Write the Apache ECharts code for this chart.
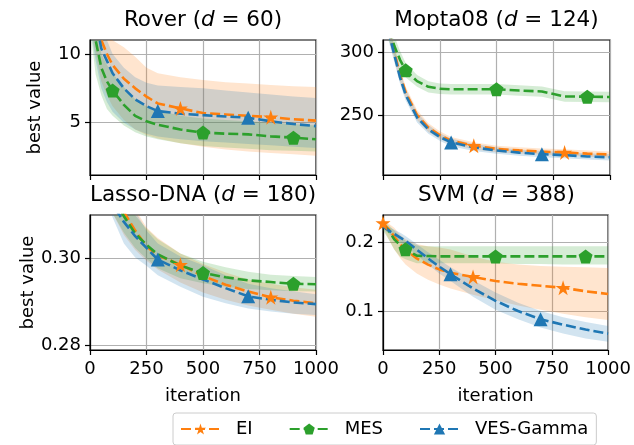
<!DOCTYPE html>
<html>
<head>
<meta charset="utf-8">
<script src="https://cdn.jsdelivr.net/npm/echarts@6/dist/echarts.min.js"></script>
<style>
  html, body { margin: 0; padding: 0; background: #fff; }
  #main { width: 634px; height: 445px; }
</style>
</head>
<body>
<div id="main"></div>
<script>
// iterations sampled along the x axis
const iterations = [0, 25, 50, 75, 100, 150, 200, 250, 300, 400, 500, 600, 700, 800, 900, 1000];
const methods = ['EI', 'MES', 'VES-Gamma'];
// where each method puts its markers
const markEI = [0, 400, 800];
const markMES = [100, 500, 900];
const markVES = [300, 700];

// Rover (d = 60)
const roverEI     = [16, 13, 11.0, 10.0, 9.2, 8.2, 7.5, 6.9, 6.4, 6.04, 5.7, 5.6, 5.5, 5.4, 5.25, 5.15];
const roverEILo   = [12, 10, 8, 7, 6.2, 5.2, 4.5, 4.1, 3.85, 3.5, 3.25, 3.05, 2.9, 2.8, 2.7, 2.6];
const roverEIHi   = [20, 16, 12.5, 11.5, 11, 10.5, 9.8, 9.0, 8.6, 8.3, 8.1, 7.95, 7.85, 7.75, 7.65, 7.6];
const roverMES    = [16, 11, 9.0, 8.0, 7.34, 6.3, 5.5, 5.1, 4.85, 4.5, 4.28, 4.2, 4.15, 4.0, 3.91, 3.79];
const roverMESLo  = [12, 8.5, 7, 6, 5.5, 4.8, 4.3, 4.0, 3.8, 3.5, 3.3, 3.2, 3.1, 3.0, 2.95, 2.9];
const roverMESHi  = [20, 13, 10, 9.2, 8.6, 7.6, 6.7, 6.2, 5.9, 5.5, 5.3, 5.2, 5.1, 5.0, 4.9, 4.8];
const roverVES    = [16, 12.5, 10.4, 9.5, 8.6, 7.5, 6.7, 6.2, 5.85, 5.65, 5.55, 5.45, 5.36, 5.1, 4.9, 4.75];
const roverVESLo  = [12, 9.5, 7.5, 6.5, 5.8, 5.0, 4.5, 4.2, 4.0, 3.8, 3.65, 3.55, 3.45, 3.35, 3.25, 3.15];
const roverVESHi  = [20, 15, 12, 11, 10, 9, 8.3, 7.9, 7.7, 7.6, 7.5, 7.35, 7.2, 7.05, 6.9, 6.8];

// Mopta08 (d = 124)
const moptaEI     = [340, 318, 300, 282, 268, 250, 240, 234, 229.5, 225.5, 223, 221.8, 220.8, 220.2, 219.2, 218.5];
const moptaEILo   = [332, 311, 294, 277, 263.5, 246, 236.5, 231, 226.5, 222.7, 220.4, 219.3, 218.3, 217.7, 216.7, 216];
const moptaEIHi   = [348, 325, 306, 287, 272.5, 254, 243.5, 237, 232.5, 228.3, 225.6, 224.3, 223.3, 222.7, 221.7, 221];
const moptaMES    = [340, 320, 305, 294, 285.6, 277, 272.5, 271, 270.5, 270.5, 270.6, 269.5, 268.8, 264.8, 264.6, 264.4];
const moptaMESLo  = [328, 310, 297, 287, 280, 272.5, 268, 266.8, 266.3, 266.3, 266.3, 265.3, 264.5, 260.5, 260.3, 260.2];
const moptaMESHi  = [352, 330, 313, 301, 291.5, 282, 277, 275.2, 274.7, 274.7, 274.8, 273.7, 272.8, 269, 268.8, 268.6];
const moptaVES    = [340, 316, 298, 280, 266, 248, 238.5, 232.5, 228.2, 224.2, 221.8, 220, 218.8, 218, 217, 216.3];
const moptaVESLo  = [332, 309, 292, 275, 261.5, 244, 235, 229.5, 225.2, 221.4, 219.2, 217.5, 216.3, 215.5, 214.5, 213.8];
const moptaVESHi  = [348, 323, 304, 285, 270.5, 252, 242, 235.5, 231.2, 227, 224.4, 222.5, 221.3, 220.5, 219.5, 218.8];

// Lasso-DNA (d = 180)
const lassoEI     = [0.332, 0.327, 0.322, 0.318, 0.3145, 0.3108, 0.3065, 0.3028, 0.3008, 0.2986, 0.2960, 0.2940, 0.2924, 0.2911, 0.2903, 0.2897];
const lassoEILo   = [0.322, 0.318, 0.315, 0.313, 0.3105, 0.3055, 0.3020, 0.2995, 0.2975, 0.2945, 0.2922, 0.2905, 0.2892, 0.2882, 0.2873, 0.2866];
const lassoEIHi   = [0.342, 0.337, 0.332, 0.327, 0.322, 0.316, 0.3115, 0.3072, 0.3048, 0.3012, 0.2988, 0.2968, 0.2952, 0.2942, 0.2934, 0.2928];
const lassoMES    = [0.332, 0.327, 0.322, 0.318, 0.3145, 0.3098, 0.3058, 0.3032, 0.3010, 0.2984, 0.2967, 0.2957, 0.2950, 0.2946, 0.2942, 0.2941];
const lassoMESLo  = [0.325, 0.320, 0.316, 0.313, 0.3105, 0.3060, 0.3025, 0.3000, 0.2978, 0.2955, 0.2943, 0.2935, 0.2930, 0.2927, 0.2925, 0.2924];
const lassoMESHi  = [0.340, 0.335, 0.330, 0.325, 0.320, 0.3145, 0.310, 0.307, 0.3045, 0.3012, 0.2993, 0.2980, 0.2970, 0.2963, 0.2960, 0.2958];
const lassoVES    = [0.330, 0.325, 0.320, 0.316, 0.3125, 0.3085, 0.3052, 0.3025, 0.2998, 0.2973, 0.2952, 0.2932, 0.2913, 0.2905, 0.2899, 0.2895];
const lassoVESLo  = [0.322, 0.318, 0.316, 0.313, 0.3095, 0.3035, 0.3003, 0.2984, 0.2962, 0.2935, 0.2912, 0.2897, 0.2885, 0.2878, 0.2873, 0.2870];
const lassoVESHi  = [0.340, 0.335, 0.330, 0.325, 0.319, 0.315, 0.311, 0.3065, 0.3035, 0.3005, 0.2985, 0.2962, 0.2942, 0.2932, 0.2925, 0.2918];

// SVM (d = 388)
const svmEI       = [0.229, 0.220, 0.209, 0.198, 0.190, 0.177, 0.168, 0.161, 0.156, 0.150, 0.144, 0.140, 0.137, 0.134, 0.129, 0.125];
const svmEILo     = [0.222, 0.205, 0.190, 0.178, 0.168, 0.155, 0.146, 0.139, 0.133, 0.124, 0.116, 0.108, 0.102, 0.096, 0.091, 0.087];
const svmEIHi     = [0.235, 0.228, 0.222, 0.212, 0.205, 0.198, 0.195, 0.193, 0.190, 0.180, 0.172, 0.168, 0.166, 0.165, 0.164, 0.163];
const svmMES      = [0.226, 0.218, 0.205, 0.197, 0.1905, 0.181, 0.1805, 0.180, 0.180, 0.180, 0.180, 0.180, 0.180, 0.180, 0.180, 0.180];
const svmMESLo    = [0.218, 0.205, 0.190, 0.180, 0.176, 0.170, 0.170, 0.170, 0.170, 0.170, 0.170, 0.169, 0.169, 0.168, 0.168, 0.168];
const svmMESHi    = [0.232, 0.226, 0.218, 0.210, 0.203, 0.196, 0.195, 0.195, 0.195, 0.195, 0.195, 0.195, 0.195, 0.195, 0.195, 0.195];
const svmVES      = [0.224, 0.218, 0.213, 0.208, 0.203, 0.190, 0.177, 0.165, 0.154, 0.133, 0.115, 0.100, 0.088, 0.080, 0.073, 0.067];
const svmVESLo    = [0.220, 0.213, 0.207, 0.201, 0.196, 0.182, 0.168, 0.155, 0.144, 0.121, 0.102, 0.088, 0.076, 0.067, 0.060, 0.055];
const svmVESHi    = [0.228, 0.223, 0.219, 0.215, 0.210, 0.198, 0.186, 0.175, 0.164, 0.145, 0.127, 0.112, 0.100, 0.091, 0.084, 0.078];

// y tick labels per panel
const roverTicks = [5, 10];
const moptaTicks = [250, 300];
const lassoTicks = [0.28, 0.30];
const svmTicks = [0.1, 0.2];

const FONT = 'DejaVu Sans';
const colors = { 'EI': '#ff7f0e', 'MES': '#2ca02c', 'VES-Gamma': '#1f77b4' };
const bandColors = { 'EI': 'rgba(255,127,14,0.2)', 'MES': 'rgba(44,160,44,0.2)', 'VES-Gamma': 'rgba(31,119,180,0.2)' };
const STAR = 'path://M50,0L61.2,34.5L97.6,34.5L68.2,55.9L79.4,90.5L50,69.1L20.6,90.5L31.8,55.9L2.4,34.5L38.8,34.5Z';
const PENT = 'path://M50,0L97.6,34.5L79.4,90.5L20.6,90.5L2.4,34.5Z';
const symbols = { 'EI': STAR, 'MES': PENT, 'VES-Gamma': 'triangle' };
const symbolSizes = { 'EI': 15, 'MES': 14, 'VES-Gamma': 14 };
const marks = { 'EI': markEI, 'MES': markMES, 'VES-Gamma': markVES };

const panels = [
  { name: 'Rover', d: 60, mean: [roverEI, roverMES, roverVES], lo: [roverEILo, roverMESLo, roverVESLo], hi: [roverEIHi, roverMESHi, roverVESHi],
    ymin: 1.19, ymax: 11.02, ticks: roverTicks, dec: 0,
    grid: { left: 90, top: 40, width: 226, height: 135 }, xlabels: false, ylabel: true },
  { name: 'Mopta08', d: 124, mean: [moptaEI, moptaMES, moptaVES], lo: [moptaEILo, moptaMESLo, moptaVESLo], hi: [moptaEIHi, moptaMESHi, moptaVESHi],
    ymin: 202.2, ymax: 309.8, ticks: moptaTicks, dec: 0,
    grid: { left: 383, top: 40, width: 227, height: 135 }, xlabels: false, ylabel: false },
  { name: 'Lasso-DNA', d: 180, mean: [lassoEI, lassoMES, lassoVES], lo: [lassoEILo, lassoMESLo, lassoVESLo], hi: [lassoEIHi, lassoMESHi, lassoVESHi],
    ymin: 0.2789, ymax: 0.3101, ticks: lassoTicks, dec: 2,
    grid: { left: 90, top: 215, width: 226, height: 135 }, xlabels: true, ylabel: true },
  { name: 'SVM', d: 388, mean: [svmEI, svmMES, svmVES], lo: [svmEILo, svmMESLo, svmVESLo], hi: [svmEIHi, svmMESHi, svmVESHi],
    ymin: 0.043, ymax: 0.2406, ticks: svmTicks, dec: 1,
    grid: { left: 383, top: 215, width: 227, height: 135 }, xlabels: true, ylabel: false }
];

function pairs(ys) {
  return iterations.map((x, i) => [x, ys[i]]);
}

// one polygon per band, placed through the grid's own scales
function bandSeries(gi, lo, hi, fill) {
  return {
    type: 'custom', xAxisIndex: gi, yAxisIndex: gi, silent: true, clip: true, z: 1,
    data: iterations.map((x, i) => [x, lo[i], hi[i]]),
    encode: { x: 0, y: [1, 2] },
    renderItem: function (params, api) {
      if (params.dataIndex !== 0) return;
      const upper = iterations.map((x, i) => api.coord([x, hi[i]]));
      const lower = iterations.map((x, i) => api.coord([x, lo[i]])).reverse();
      return { type: 'polygon', shape: { points: upper.concat(lower) }, style: { fill: fill } };
    }
  };
}

const chart = echarts.init(document.getElementById('main'));

const grids = [], xAxes = [], yAxes = [], series = [], graphics = [];

panels.forEach((p, gi) => {
  grids.push(Object.assign({ show: true, borderColor: '#000', borderWidth: 1.2, backgroundColor: 'transparent' }, p.grid));

  xAxes.push({
    type: 'value', gridIndex: gi, min: 0, max: 1000, interval: 250,
    axisLine: { show: true, lineStyle: { color: '#000', width: 1.2 } },
    axisTick: { show: true, length: 5, lineStyle: { color: '#000', width: 1.2 } },
    axisLabel: { show: p.xlabels, color: '#000', fontSize: 18, fontFamily: FONT, margin: 10,
      formatter: (v) => String(v) },
    splitLine: { show: true, lineStyle: { color: '#b0b0b0', width: 1.2 } },
    name: p.xlabels ? 'iteration' : '', nameLocation: 'middle', nameGap: 37,
    nameTextStyle: { color: '#000', fontSize: 18, fontFamily: FONT }
  });

  yAxes.push({
    type: 'value', gridIndex: gi, min: p.ymin, max: p.ymax,
    axisLine: { show: true, lineStyle: { color: '#000', width: 1.2 } },
    axisTick: { show: true, length: 5, customValues: p.ticks, lineStyle: { color: '#000', width: 1.2 } },
    axisLabel: { show: true, customValues: p.ticks, color: '#000', fontSize: 18, fontFamily: FONT, margin: 9,
      formatter: (v) => Number(v).toFixed(p.dec) },
    splitLine: { show: true, lineStyle: { color: '#b0b0b0', width: 1.2 } },
    name: p.ylabel ? 'best value' : '', nameLocation: 'middle', nameGap: 46, nameRotate: 90,
    nameTextStyle: { color: '#000', fontSize: 18, fontFamily: FONT }
  });

  // shaded bands first
  methods.forEach((m, k) => {
    series.push(bandSeries(gi, p.lo[k], p.hi[k], bandColors[m]));
  });

  // mean curves with markers
  methods.forEach((m, k) => {
    series.push({
      name: m, type: 'line', xAxisIndex: gi, yAxisIndex: gi,
      data: pairs(p.mean[k]),
      symbol: symbols[m],
      symbolSize: (v) => (marks[m].indexOf(v[0]) >= 0 ? symbolSizes[m] : 0),
      showSymbol: true, showAllSymbol: true, clip: true,
      itemStyle: { color: colors[m] },
      lineStyle: { color: colors[m], width: 2.6, type: [10, 4] },
      z: 3
    });
  });

  // subplot titles
  const cx = p.grid.left + p.grid.width / 2;
  const cy = p.grid.top - 20;
  graphics.push({
    type: 'text', x: cx, y: cy,
    style: {
      text: '{n|' + p.name + ' (}{i|d}{n| = ' + p.d + ')}',
      textAlign: 'center', textVerticalAlign: 'middle',
      rich: {
        n: { fontSize: 21.5, fontFamily: FONT, fill: '#000' },
        i: { fontSize: 21.5, fontFamily: FONT, fontStyle: 'italic', fill: '#000' }
      }
    }
  });
});

const option = {
  animation: false,
  backgroundColor: '#fff',
  grid: grids,
  xAxis: xAxes,
  yAxis: yAxes,
  series: series,
  graphic: graphics,
  legend: {
    data: methods,
    left: 173, top: 413,
    itemWidth: 39, itemHeight: 14, itemGap: 36,
    padding: [7, 8, 7, 7],
    borderColor: '#cccccc', borderWidth: 1, borderRadius: 3,
    textStyle: { color: '#000', fontSize: 18, fontFamily: FONT, padding: [0, 0, 0, 11] }
  }
};

chart.setOption(option);
</script>
</body>
</html>
